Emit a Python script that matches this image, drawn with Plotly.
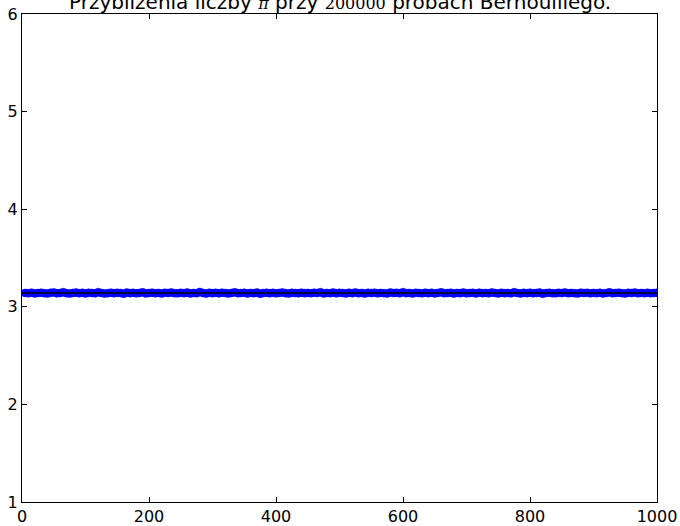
import plotly.graph_objects as go

# Pi approximations (200000 Bernoulli trials each), sampled along the x range
x_vals = list(range(5, 1001, 5))
pi_est = [
    3.142, 3.139, 3.145, 3.137, 3.141, 3.144, 3.140, 3.136, 3.143, 3.147,
    3.138, 3.141, 3.149, 3.140, 3.135, 3.142, 3.146, 3.139, 3.143, 3.137,
    3.144, 3.141, 3.138, 3.150, 3.142, 3.136, 3.140, 3.145, 3.139, 3.143,
    3.141, 3.134, 3.146, 3.140, 3.143, 3.138, 3.142, 3.148, 3.137, 3.141,
    3.145, 3.139, 3.142, 3.136, 3.144, 3.141, 3.147, 3.140, 3.138, 3.143,
    3.140, 3.146, 3.137, 3.142, 3.139, 3.151, 3.141, 3.135, 3.144, 3.140,
    3.143, 3.138, 3.145, 3.141, 3.136, 3.142, 3.148, 3.139, 3.141, 3.144,
    3.137, 3.142, 3.140, 3.146, 3.133, 3.141, 3.144, 3.139, 3.143, 3.138,
    3.142, 3.147, 3.140, 3.136, 3.143, 3.141, 3.138, 3.145, 3.140, 3.142,
    3.139, 3.144, 3.141, 3.149, 3.137, 3.142, 3.140, 3.146, 3.138, 3.143,
    3.141, 3.136, 3.144, 3.140, 3.147, 3.139, 3.142, 3.135, 3.143, 3.141,
    3.145, 3.138, 3.142, 3.140, 3.137, 3.146, 3.141, 3.143, 3.139, 3.150,
    3.140, 3.142, 3.136, 3.144, 3.141, 3.138, 3.145, 3.140, 3.143, 3.137,
    3.142, 3.148, 3.139, 3.141, 3.144, 3.135, 3.142, 3.140, 3.146, 3.138,
    3.141, 3.143, 3.137, 3.145, 3.140, 3.142, 3.139, 3.147, 3.141, 3.136,
    3.144, 3.140, 3.142, 3.138, 3.149, 3.141, 3.137, 3.143, 3.140, 3.145,
    3.139, 3.142, 3.146, 3.134, 3.141, 3.144, 3.140, 3.138, 3.143, 3.141,
    3.147, 3.139, 3.142, 3.140, 3.136, 3.145, 3.141, 3.143, 3.138, 3.142,
    3.140, 3.144, 3.137, 3.141, 3.148, 3.139, 3.142, 3.145, 3.140, 3.136,
    3.143, 3.141, 3.146, 3.138, 3.142, 3.140, 3.144, 3.139, 3.141, 3.145,
]
ref_x = [0, 1000]
ref_y = [3.14159265, 3.14159265]
x_ticks = [0, 200, 400, 600, 800, 1000]
y_ticks = [1, 2, 3, 4, 5, 6]

fig = go.Figure()
fig.add_trace(go.Scatter(
    x=x_vals, y=pi_est, mode="markers",
    marker=dict(color="#0000ff", size=8, line=dict(width=0.5, color="#0000ff")),
    showlegend=False, cliponaxis=True,
))
fig.add_trace(go.Scatter(
    x=ref_x, y=ref_y, mode="lines",
    line=dict(color="black", width=1.6), showlegend=False,
))

axis_common = dict(
    showgrid=False, zeroline=False, showline=True, linecolor="black", linewidth=1,
    mirror="ticks", ticks="inside", ticklen=5, tickwidth=1, tickcolor="black",
    automargin=False,
    tickfont=dict(family="DejaVu Sans", size=16, color="black"),
)
fig.update_xaxes(range=[0, 1000], tickvals=x_ticks, ticktext=[str(v) for v in x_ticks], **axis_common)
fig.update_yaxes(range=[1, 6], tickvals=y_ticks, ticktext=[str(v) for v in y_ticks], **axis_common)

title = ("Przybliżenia liczby <span style=\"font-family:'DejaVu Serif';font-style:italic;font-size:16px\">π</span>"
         " przy <span style=\"font-family:'DejaVu Serif';font-size:16px\">200000</span> próbach Bernoulliego.")
fig.add_annotation(
    text=title, xref="paper", yref="paper", x=0.5, y=1, xanchor="center", yanchor="bottom",
    yshift=-2, showarrow=False, font=dict(family="DejaVu Sans", size=20, color="black"),
)

fig.update_layout(
    width=680, height=526,
    margin=dict(l=22, r=23, t=14, b=24),
    paper_bgcolor="white", plot_bgcolor="white",
)
fig.write_html("out.html")
